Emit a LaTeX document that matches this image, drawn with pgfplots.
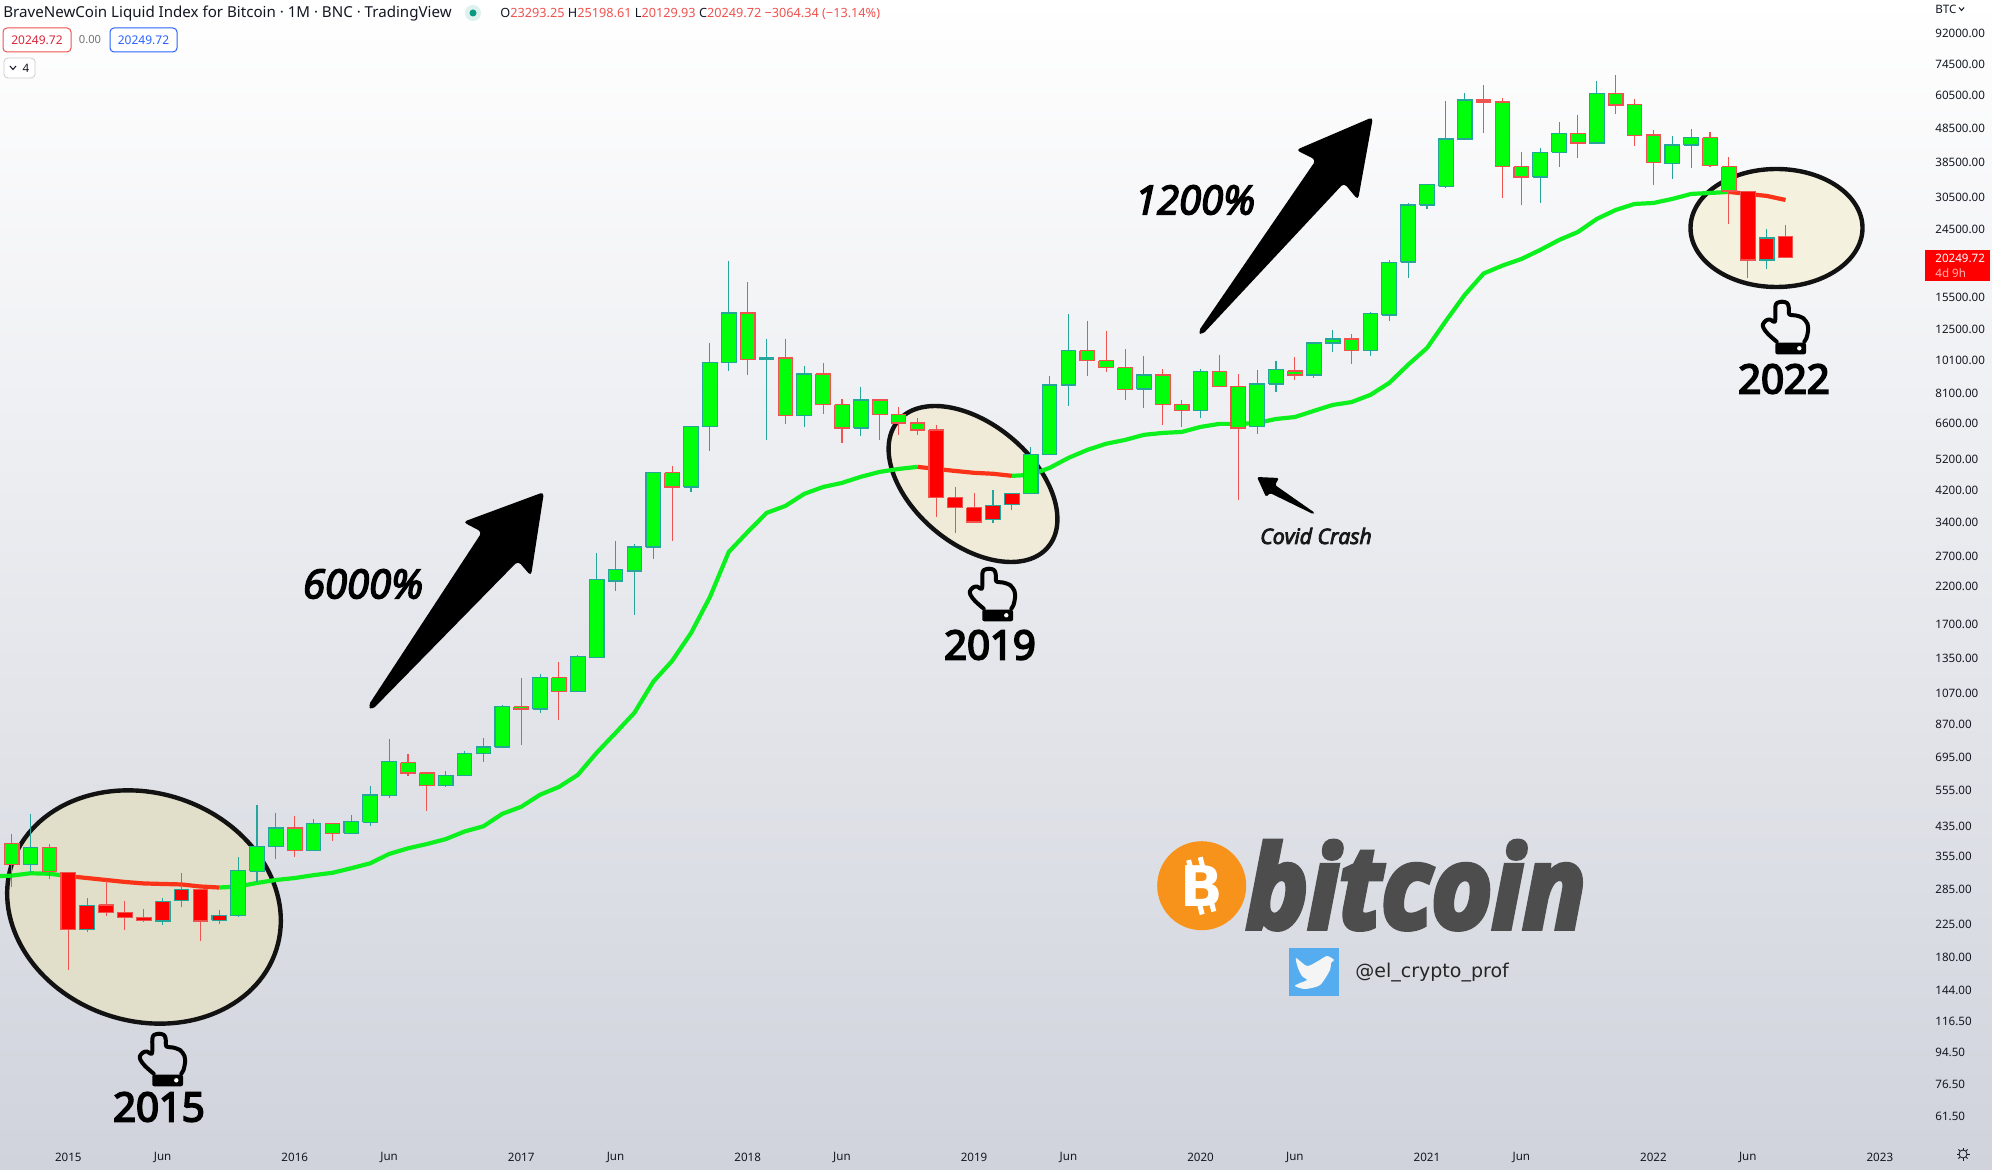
\documentclass[border=0pt]{standalone}
\usepackage{fontspec}
\usepackage{pgfplots}
\pgfplotsset{compat=1.18}
\setmainfont{Noto Sans}
\newfontfamily\annot[FakeBold=5,ItalicFeatures={FakeBold=4},BoldItalicFeatures={FakeBold=5}]{Open Sans}
\newfontfamily\tagfont{DejaVu Sans}

\definecolor{upb}{HTML}{26A69A}
\definecolor{dnb}{HTML}{EF5350}
\definecolor{bodyg}{HTML}{00FF0A}
\definecolor{bodyr}{HTML}{FF0000}
\definecolor{mag}{HTML}{0CF01E}
\definecolor{mar}{HTML}{F93218}
\definecolor{txt}{HTML}{131722}
\definecolor{bgbot}{HTML}{D0D3DC}
\definecolor{circa}{HTML}{E1DFC9}
\definecolor{circb}{HTML}{EFEBD8}
\definecolor{circc}{HTML}{F5F1DF}
\definecolor{coin}{HTML}{F7931A}
\definecolor{logo}{HTML}{4D4D4D}
\definecolor{twit}{HTML}{55ACEE}
\definecolor{dot}{HTML}{089981}
\definecolor{dothalo}{HTML}{DDF1EE}
\definecolor{tagblue}{HTML}{2962FF}
\definecolor{tagred}{HTML}{D9283A}

% one monthly candle: month, open, high, low, close, border colour, body colour
\newcommand{\candle}[7]{%
  \pgfmathsetmacro\xl{#1-0.388}\pgfmathsetmacro\xr{#1+0.388}%
  \addplot[#6, line width=0.55pt] coordinates {(#1,#3)(#1,#4)};
  \addplot[draw=#6, fill=#7, line width=0.55pt, line join=miter]
    coordinates {(\xl,#2)(\xr,#2)(\xr,#5)(\xl,#5)(\xl,#2)};
}
\newcommand{\U}[5]{\candle{#1}{#2}{#3}{#4}{#5}{upb}{bodyg}}
\newcommand{\D}[5]{\candle{#1}{#2}{#3}{#4}{#5}{dnb}{bodyg}}
\newcommand{\UR}[5]{\candle{#1}{#2}{#3}{#4}{#5}{upb}{bodyr}}
\newcommand{\DR}[5]{\candle{#1}{#2}{#3}{#4}{#5}{dnb}{bodyr}}

\tikzset{pix/.style={shift={(0pt,584.5pt)},x=0.5pt,y=-0.5pt}}

% pointing hand, #1 #2 = top left in reference pixels
\newcommand{\handicon}[2]{%
  \begin{scope}[pix,shift={(#1,#2)}]
    \draw[line width=2pt,line join=round,line cap=round] plot[smooth,tension=0.5] coordinates {(14.7,40.7) (6,33) (1.5,27) (1,23) (4,19.5) (8,18.5) (13,20.5) (13.3,6) (15,2) (20,0.7) (25,2) (26.7,6) (27.3,13.3) (34,14.5) (41,17) (45.5,23) (46,30) (44.5,37) (42.3,40.7)};
    \fill[black,rounded corners=1pt] (13.3,41.7) rectangle (44,53.3);
    \fill[white] (37.3,47.3) circle (2.2);
  \end{scope}}

\begin{document}
\begin{tikzpicture}
\path[use as bounding box] (0,0) rectangle (996pt,584.5pt);
\shade[top color=white, bottom color=bgbot] (0,0) rectangle (996pt,584.5pt);

% circled regions lie under the candles
\begin{scope}[pix, line width=2.2pt]
  \draw[draw=black!93, fill=circa, rotate around={-18:(144,907)}] (144,907) ellipse (139 and 114);
  \draw[draw=black!93, fill=circb, rotate around={-40:(973,484)}] (973,484) ellipse (98 and 60);
  \draw[draw=black!93, fill=circc] (1776.5,228) ellipse (86 and 59);
\end{scope}

\begin{axis}[
  at={(0pt,16pt)}, anchor=south west,
  scale only axis, width=962pt, height=568.5pt,
  ymode=log,
  xmin=-3.62, xmax=98.34,
  ymin=53.25, ymax=114960,
  axis line style={draw=none},
  major tick length=0pt,
  minor tick length=0pt,
  yticklabel pos=right,
  xtick={0,5,12,17,24,29,36,41,48,53,60,65,72,77,84,89,96},
  xticklabels={2015,Jun,2016,Jun,2017,Jun,2018,Jun,2019,Jun,2020,Jun,2021,Jun,2022,Jun,2023},
  ytick={92000,74500,60500,48500,38500,30500,24500,15500,12500,10100,8100,6600,5200,4200,3400,2700,2200,1700,1350,1070,870,695,555,435,355,285,225,180,144,116.5,94.5,76.5,61.5},
  yticklabels={92000.00,74500.00,60500.00,48500.00,38500.00,30500.00,24500.00,15500.00,12500.00,10100.00,8100.00,6600.00,5200.00,4200.00,3400.00,2700.00,2200.00,1700.00,1350.00,1070.00,870.00,695.00,555.00,435.00,355.00,285.00,225.00,180.00,144.00,116.50,94.50,76.50,61.50},
  tick label style={font=\fontsize{5.8}{7}\selectfont, text=txt, inner sep=0pt},
  yticklabel style={anchor=west, xshift=5.5pt, yshift=-0.3pt},
  xticklabel style={anchor=center, yshift=-10pt},
  no markers,
]

% moving average, green part
\addplot[mag, line width=2.1pt, line join=round] coordinates {
(-3.62,310)(-3,311)(-2,316)(-1,315)(0,310)};
\addplot[mag, line width=2.1pt, line join=round] coordinates {
(8,287)(9,289)(10,296)(11,302)(12,306)(13,312)(14,317)(15,327)(16,338)(17,360)(18,374)(19,385)(20,398)(21,419)(22,434)(23,472)(24,495)(25,537)(26,566)(27,614)(28,713)(29,815)(30,934)(31,1152)(32,1326)(33,1600)(34,2040)(35,2767)(36,3165)(37,3600)(38,3775)(39,4095)(40,4290)(41,4410)(42,4595)(43,4750)(44,4845)(45,4915)};
\addplot[mag, line width=2.1pt, line join=round] coordinates {
(50,4625)(51,4655)(52,4880)(53,5220)(54,5510)(55,5745)(56,5894)(57,6100)(58,6180)(59,6220)(60,6435)(61,6570)(62,6570)(63,6610)(64,6790)(65,6880)(66,7170)(67,7465)(68,7610)(69,7990)(70,8660)(71,9790)(72,10960)(73,13160)(74,15690)(75,18130)(76,19130)(77,20000)(78,21255)(79,22740)(80,24000)(81,26210)(82,27845)(83,29000)(84,29190)(85,30000)(86,31030)(87,31240)(88,31450)};
% moving average, falling stretches
\addplot[mar, line width=2.1pt, line join=round] coordinates {
(0,310)(1,306)(2,302)(3,298)(4,295)(5,294)(6,293)(7,289)(8,287)};
\addplot[mar, line width=2.1pt, line join=round] coordinates {
(45,4915)(46,4845)(47,4780)(48,4720)(49,4690)(50,4625)};
\addplot[mar, line width=2.1pt, line join=round] coordinates {
(88,31450)(89,31030)(90,30620)(91,29790)};

% monthly candles: month open high low close
\D{-3}{387}{413}{288}{336}
\U{-2}{336}{472}{319}{376}
\D{-1}{376}{385}{303}{319}
\DR{0}{318}{319}{164}{216}
\UR{1}{216}{267}{212}{254}
\DR{2}{255}{300}{236}{243}
\DR{3}{243}{262}{215}{235}
\DR{4}{235}{249}{227}{230}
\UR{5}{229}{267}{223}{261}
\UR{6}{263}{316}{252}{283}
\DR{7}{283}{283}{200}{229}
\UR{8}{230}{247}{225}{237}
\U{9}{237}{352}{235}{322}
\U{10}{320}{500}{298}{378}
\U{11}{378}{474}{349}{429}
\D{12}{429}{465}{353}{369}
\U{13}{369}{456}{367}{441}
\D{14}{441}{443}{394}{414}
\U{15}{414}{469}{414}{449}
\U{16}{446}{570}{436}{536}
\U{17}{533}{783}{526}{671}
\D{18}{666}{708}{610}{622}
\D{19}{622}{627}{482}{570}
\U{20}{570}{631}{566}{610}
\U{21}{610}{722}{610}{708}
\U{22}{708}{789}{671}{741}
\U{23}{741}{985}{741}{972}
\D{24}{972}{1182}{752}{958}
\U{25}{958}{1215}{933}{1182}
\D{26}{1182}{1317}{890}{1075}
\U{27}{1075}{1375}{1075}{1362}
\U{28}{1353}{2749}{1353}{2290}
\U{29}{2274}{2980}{2126}{2450}
\U{30}{2433}{2918}{1808}{2860}
\U{31}{2860}{4750}{2640}{4720}
\D{32}{4720}{4945}{2980}{4290}
\U{33}{4290}{6435}{4146}{6435}
\U{34}{6435}{11340}{5470}{9920}
\U{35}{9920}{19735}{9390}{13890}
\D{36}{13890}{17120}{9140}{10115}
\U{37}{10115}{11650}{5894}{10250}
\D{38}{10250}{11650}{6570}{6940}
\U{39}{6940}{9720}{6435}{9200}
\D{40}{9200}{9920}{7030}{7465}
\D{41}{7465}{7770}{5775}{6390}
\U{42}{6390}{8430}{6055}{7720}
\D{43}{7720}{7720}{5894}{6980}
\D{44}{6980}{7370}{6100}{6610}
\D{45}{6610}{6840}{6100}{6305}
\DR{46}{6305}{6520}{3500}{3985}
\DR{47}{3985}{4290}{3143}{3725}
\DR{48}{3725}{4125}{3365}{3387}
\UR{49}{3434}{4205}{3365}{3775}
\UR{50}{3800}{4125}{3674}{4095}
\U{51}{4095}{5620}{4095}{5330}
\U{52}{5330}{9060}{5330}{8540}
\U{53}{8540}{13800}{7410}{10770}
\D{54}{10770}{13160}{9060}{10050}
\D{55}{10050}{12300}{9330}{9590}
\D{56}{9590}{10870}{7720}{8260}
\U{57}{8315}{10390}{7320}{9140}
\D{58}{9140}{9520}{6520}{7500}
\D{59}{7500}{7720}{6435}{7170}
\U{60}{7170}{9520}{6840}{9330}
\D{61}{9330}{10460}{8430}{8480}
\D{62}{8480}{9200}{3931}{6390}
\U{63}{6440}{9455}{6130}{8600}
\U{64}{8600}{10050}{8150}{9455}
\D{65}{9390}{10320}{8838}{9140}
\U{66}{9140}{11420}{8960}{11340}
\U{67}{11340}{12385}{10680}{11650}
\D{68}{11650}{12050}{9860}{10770}
\U{69}{10770}{13990}{10390}{13800}
\U{70}{13700}{19870}{13160}{19480}
\U{71}{19600}{29190}{17600}{28800}
\U{72}{28800}{32980}{28040}{32980}
\U{73}{32630}{58130}{32300}{44970}
\U{74}{44970}{61300}{44970}{58520}
\D{75}{58520}{64800}{46750}{57730}
\D{76}{57730}{59330}{30220}{37240}
\D{77}{37240}{41100}{28800}{34800}
\U{78}{34800}{42350}{29190}{41100}
\U{79}{41100}{50440}{37240}{46750}
\D{80}{46750}{52900}{39560}{43770}
\U{81}{43770}{66530}{43480}{60970}
\D{82}{60970}{69150}{53240}{56560}
\D{83}{56930}{58900}{42900}{45950}
\D{84}{46200}{47790}{32980}{38290}
\U{85}{38030}{45950}{34340}{43190}
\U{86}{43190}{48120}{36990}{45340}
\D{87}{45340}{47100}{37240}{37490}
\D{88}{37240}{39820}{25340}{31650}
\DR{89}{31450}{31650}{17600}{19870}
\UR{90}{19870}{24500}{18700}{23050}
\DR{91}{23293}{25199}{20130}{20250}
\end{axis}

% annotations on top, in reference pixels
\begin{scope}[pix]
  \fill[black,rounded corners=2pt] (544,492)--(463,522)--(482,532)--(368,706)--(372,710)--(518,561)--(531,576)--cycle;
  \fill[black,rounded corners=2pt] (1373,117)--(1296,150)--(1316,160)--(1198,332)--(1202,335)--(1344,183)--(1358,200)--cycle;
  \fill[black,rounded corners=0.8pt] (1257,477)--(1279,478)--(1275,485)--(1315,513)--(1313,514)--(1270,493)--(1266,497)--cycle;

  \node[font={\annot\itshape\fontsize{20}{22}\selectfont}] at (363,584) {6000\%};
  \node[font={\annot\itshape\fontsize{20}{22}\selectfont}] at (1195,200) {1200\%};
  \node[font={\annot\itshape\fontsize{10.6}{12}\selectfont}, text=black!90] at (1316,536) {Covid Crash};
  \node[font={\annot\fontsize{20}{22}\selectfont}] at (159,1107) {2015};
  \node[font={\annot\fontsize{20}{22}\selectfont}] at (990,645) {2019};
  \node[font={\annot\fontsize{20}{22}\selectfont}] at (1784,379) {2022};

  % bitcoin logo
  \fill[coin] (1201.7,885.7) circle (44.5);
  \begin{scope}[shift={(1201.7,885.7)},rotate=14]
    \node[text=white,font={\tagfont\bfseries\fontsize{28}{30}\selectfont},inner sep=0pt] at (0,0) {B};
    \fill[white] (-9,-28) rectangle (-4,-18) (3,-28) rectangle (8,-18) (-9,18) rectangle (-4,28) (3,18) rectangle (8,28);
  \end{scope}
  \node[anchor=base west,inner sep=0pt,text=logo,xscale=0.91,
    font={\annot\bfseries\itshape\fontsize{57}{60}\selectfont}] at (1246,928) {bitcoin};

  % twitter badge
  \fill[twit] (1289,948) rectangle (1339,996);
  \fill[white!96!black] plot[smooth cycle,tension=0.45] coordinates {(1334,960) (1327,956) (1318,961) (1307,966) (1296,958) (1298,968) (1302,976) (1307,980) (1300,983) (1295,986) (1305,989) (1320,985) (1330,970) (1331,963)};
  \node[anchor=west,inner sep=0pt,font={\tagfont\fontsize{9.5}{11}\selectfont},text=black!85] at (1355,972.5) {@el\_crypto\_prof};

  % chart header
  \node[anchor=west,inner sep=0pt,text=txt,font=\fontsize{7.55}{9}\selectfont] at (3,14) {BraveNewCoin Liquid Index for Bitcoin · 1M · BNC · TradingView};
  \fill[dothalo] (473,13) circle (8);
  \fill[dot] (473,13) circle (3.5);
  \node[anchor=west,inner sep=0pt,font=\fontsize{6.35}{8}\selectfont,text=txt] at (500,14) {O\textcolor{dnb}{23293.25} H\textcolor{dnb}{25198.61} L\textcolor{dnb}{20129.93} C\textcolor{dnb}{20249.72} \textcolor{dnb}{−3064.34 (−13.14\%)}};
  \draw[dnb,fill=white,rounded corners=2pt,line width=0.5pt] (3,28) rectangle (71,52);
  \node[inner sep=0pt,text=tagred,font=\fontsize{6}{7}\selectfont] at (37,40) {20249.72};
  \node[inner sep=0pt,text=black!55,font=\fontsize{5.6}{7}\selectfont] at (90,40) {0.00};
  \draw[tagblue,fill=white,rounded corners=2pt,line width=0.5pt] (110,28) rectangle (177,52);
  \node[inner sep=0pt,text=tagblue,font=\fontsize{6}{7}\selectfont] at (143.5,40) {20249.72};
  \draw[black!20,fill=white,rounded corners=2pt,line width=0.4pt] (4,58) rectangle (35,78);
  \draw[txt,line width=0.5pt] (10,66)--(13,69.5)--(16,66);
  \node[inner sep=0pt,text=txt,font=\fontsize{5.8}{7}\selectfont] at (26,68) {4};

  % price scale extras
  \node[anchor=west,inner sep=0pt,text=txt,font=\fontsize{5.8}{7}\selectfont] at (1935,9) {BTC};
  \draw[txt,line width=0.5pt] (1959,7.5)--(1961.5,10.5)--(1964,7.5);
  \fill[red] (1925,250) rectangle (1990,281);
  \node[anchor=west,inner sep=0pt,text=white,font=\bfseries\fontsize{5.8}{7}\selectfont] at (1935,258) {20249.72};
  \node[anchor=west,inner sep=0pt,text=white!70!red,font=\fontsize{5.8}{7}\selectfont] at (1935,273) {4d 9h};

  % settings gear
  \draw[txt,line width=0.4pt] (1963,1154) circle (4);
  \foreach \a in {0,45,...,315} \draw[txt,line width=0.4pt] (1963,1154)++(\a:4)--++(\a:2.5);
\end{scope}

\handicon{139}{1033}
\handicon{969}{568}
\handicon{1762}{301}
\end{tikzpicture}
\end{document}
